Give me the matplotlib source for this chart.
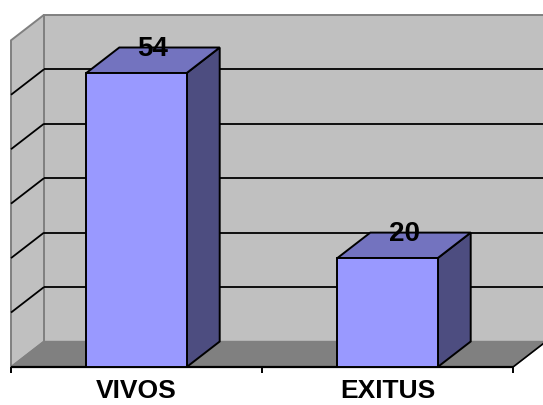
import matplotlib
matplotlib.use("Agg")
import matplotlib.pyplot as plt
from matplotlib.patches import Polygon

# Chart data
categories = ["VIVOS", "EXITUS"]
values = [54, 20]
y_max = 60
y_step = 10

# Figure / projection setup (pixels -> data units)
W, H, DPI = 543, 405, 100
px_per_cat = 251.0
px_per_val = 294.0 / 54.0
origin_x_px = 11.0          # left end of category axis
origin_y_px = H - 367.0     # baseline, measured from the bottom

fig = plt.figure(figsize=(W / DPI, H / DPI), dpi=DPI)
ax = fig.add_axes([0, 0, 1, 1])
ax.set_xlim(-origin_x_px / px_per_cat, (W - origin_x_px) / px_per_cat)
ax.set_ylim(-origin_y_px / px_per_val, (H - origin_y_px) / px_per_val)
ax.axis("off")

# 3-D depth offset (oblique projection)
dx = 33.0 / px_per_cat
dy = 25.5 / px_per_val
n = len(categories)
bar_w = 0.4

wall_col = "#C0C0C0"
floor_col = "#808080"
edge_gray = "#808080"

# Back wall
ax.add_patch(Polygon([(dx, dy), (n + dx, dy), (n + dx, y_max + dy), (dx, y_max + dy)],
                     closed=True, facecolor=wall_col, edgecolor=edge_gray, lw=1.4, zorder=0))
# Side wall
ax.add_patch(Polygon([(0, 0), (dx, dy), (dx, y_max + dy), (0, y_max)],
                     closed=True, facecolor=wall_col, edgecolor=edge_gray, lw=1.4, zorder=0.5))
# Floor
ax.add_patch(Polygon([(0, 0), (n, 0), (n + dx, dy), (dx, dy)],
                     closed=True, facecolor=floor_col, edgecolor=edge_gray, lw=1.0, zorder=0.6))

# Gridlines on back wall and side wall
for v in range(y_step, y_max, y_step):
    ax.plot([dx, n + dx], [v + dy, v + dy], color="black", lw=1.3, zorder=1, solid_capstyle="butt")
    ax.plot([0, dx], [v, v + dy], color="black", lw=1.3, zorder=1, solid_capstyle="butt")

# Floor front edge, right edge and tick marks
ax.plot([0, n], [0, 0], color="black", lw=1.6, zorder=1.5, solid_capstyle="butt")
ax.plot([n, n + dx], [0, dy], color="black", lw=1.2, zorder=1.5)
tick_len = 6.0 / px_per_val
for t in range(n + 1):
    ax.plot([t, t], [0, -tick_len], color="black", lw=1.4, zorder=1.5, solid_capstyle="butt")

# Bars
front_col = "#9999FF"
top_col = "#7373BF"
side_col = "#4D4D80"
for i, (cat, v) in enumerate(zip(categories, values)):
    c = i + 0.5
    l, r = c - bar_w / 2, c + bar_w / 2
    kw = dict(closed=True, edgecolor="black", lw=1.4, joinstyle="miter", zorder=3)
    ax.add_patch(Polygon([(r, 0), (r + dx, dy), (r + dx, v + dy), (r, v)], facecolor=side_col, **kw))
    ax.add_patch(Polygon([(l, v), (r, v), (r + dx, v + dy), (l + dx, v + dy)], facecolor=top_col, **kw))
    ax.add_patch(Polygon([(l, 0), (r, 0), (r, v), (l, v)], facecolor=front_col, **kw))
    ax.text(c + dx / 2, v + dy - 0.2, str(v), ha="center", va="center",
            fontsize=20, fontweight="bold", family="Liberation Sans", zorder=5)
    ax.text(c, -24.5 / px_per_val, cat, ha="center", va="center",
            fontsize=19, fontweight="bold", family="Liberation Sans", zorder=5)

fig.savefig("out.png", dpi=DPI, facecolor="white")
